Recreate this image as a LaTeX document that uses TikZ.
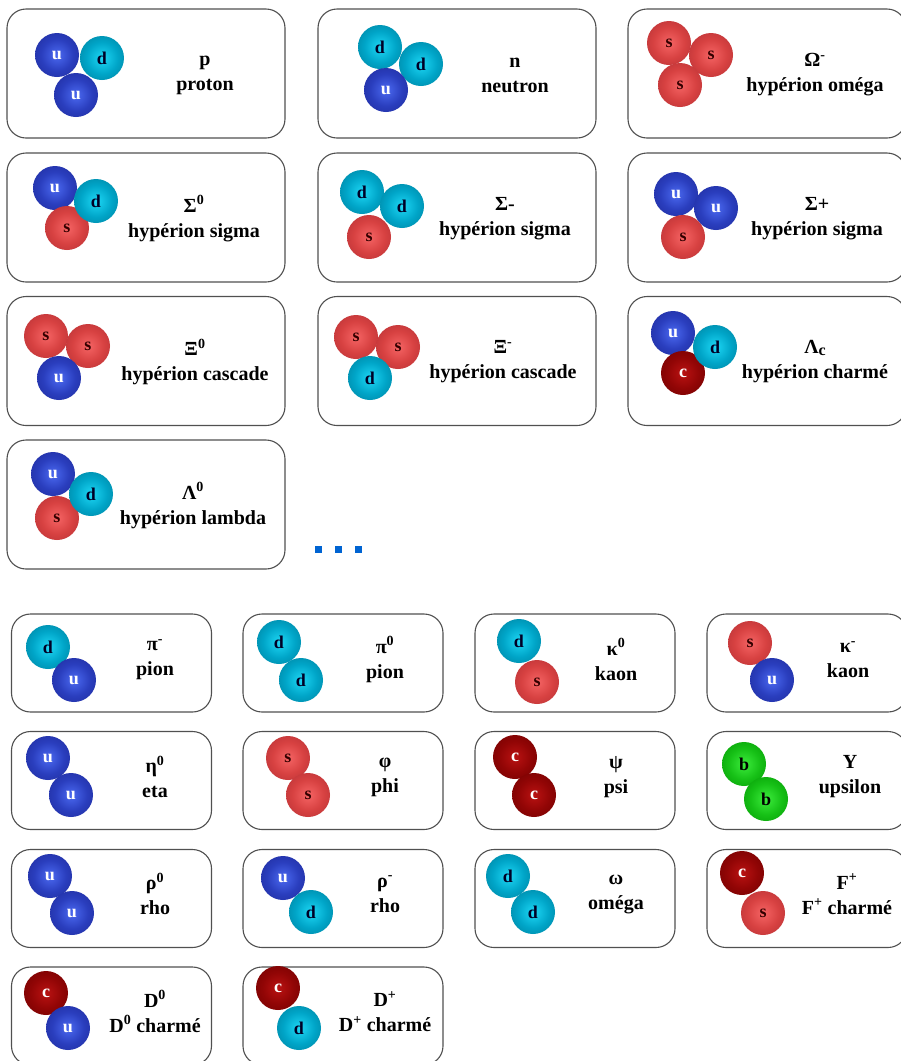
\documentclass[tikz,border=0pt]{standalone}
\usepackage{fontspec}
\setmainfont{Liberation Serif}

% quark colours: centre, middle, outer, rim
\definecolor{uIn}{RGB}{75,105,240}
\definecolor{uMid}{RGB}{42,62,190}
\definecolor{uOut}{RGB}{28,38,145}
\definecolor{uRim}{RGB}{20,26,105}
\definecolor{dIn}{RGB}{30,215,245}
\definecolor{dMid}{RGB}{0,165,200}
\definecolor{dOut}{RGB}{0,118,145}
\definecolor{dRim}{RGB}{0,85,105}
\definecolor{sIn}{RGB}{245,100,100}
\definecolor{sMid}{RGB}{215,65,65}
\definecolor{sOut}{RGB}{172,45,50}
\definecolor{sRim}{RGB}{130,30,35}
\definecolor{cIn}{RGB}{185,18,18}
\definecolor{cMid}{RGB}{145,5,5}
\definecolor{cOut}{RGB}{105,0,0}
\definecolor{cRim}{RGB}{78,0,0}
\definecolor{bIn}{RGB}{60,235,60}
\definecolor{bMid}{RGB}{22,192,22}
\definecolor{bOut}{RGB}{0,145,0}
\definecolor{bRim}{RGB}{0,108,0}
\definecolor{boxgray}{RGB}{80,80,80}
\definecolor{dotblue}{RGB}{0,100,210}

\pgfdeclareradialshading{quarkU}{\pgfpoint{0bp}{0bp}}{color(0bp)=(uIn); color(18bp)=(uMid); color(40bp)=(uOut); color(50bp)=(uRim)}
\pgfdeclareradialshading{quarkD}{\pgfpoint{0bp}{0bp}}{color(0bp)=(dIn); color(18bp)=(dMid); color(40bp)=(dOut); color(50bp)=(dRim)}
\pgfdeclareradialshading{quarkS}{\pgfpoint{0bp}{0bp}}{color(0bp)=(sIn); color(18bp)=(sMid); color(40bp)=(sOut); color(50bp)=(sRim)}
\pgfdeclareradialshading{quarkC}{\pgfpoint{0bp}{0bp}}{color(0bp)=(cIn); color(18bp)=(cMid); color(40bp)=(cOut); color(50bp)=(cRim)}
\pgfdeclareradialshading{quarkB}{\pgfpoint{0bp}{0bp}}{color(0bp)=(bIn); color(18bp)=(bMid); color(40bp)=(bOut); color(50bp)=(bRim)}

\tikzset{
  bbox/.style={draw=boxgray, line width=1.1pt, rounded corners=19pt,
    minimum width=278pt, minimum height=129pt, inner sep=0pt, outer sep=0pt},
  mbox/.style={bbox, minimum width=200pt, minimum height=98pt},
  quark/.style={circle, minimum size=44pt, inner sep=0pt, shade,
    font=\fontsize{18}{18}\selectfont\bfseries},
  qu/.style={quark, shading=quarkU, text=white},
  qd/.style={quark, shading=quarkD, text=black!85!blue},
  qs/.style={quark, shading=quarkS, text=black!80!red},
  qc/.style={quark, shading=quarkC, text=white},
  qb/.style={quark, shading=quarkB, text=black},
  lbl/.style={align=center, inner sep=0pt,
    font=\fontsize{20}{25}\selectfont\bfseries},
  dotmark/.style={fill=dotblue, minimum size=7pt, inner sep=0pt}
}

\begin{document}
\begin{tikzpicture}[x=1pt, y=-1pt]
  \fill[white] (0,0) rectangle (901,1061);
  \useasboundingbox (0,0) rectangle (901,1061);

  % ---------------- baryons ----------------
  \node[bbox] (proton) at (146,73.5) {};
  \node[qu] (p1) at (57,55) {u};
  \node[qd] (p2) at (102,58) {d};
  \node[qu] (p3) at (76,95) {u};
  \node[lbl] (lp) at (205,75) {p\\proton};

  \node[bbox] (neutron) at (457,73.5) {};
  \node[qd] (n1) at (380,47) {d};
  \node[qd] (n2) at (421,64) {d};
  \node[qu] (n3) at (386,90) {u};
  \node[lbl] (ln) at (515,75) {n\\neutron};

  \node[bbox] (omega) at (767,73.5) {};
  \node[qs] (o1) at (669,43) {s};
  \node[qs] (o2) at (711,55) {s};
  \node[qs] (o3) at (680,85) {s};
  \node[lbl] (lo) at (815,75) {Ω\textsuperscript{-}\\hypérion oméga};

  \node[bbox] (sigma0) at (146,217.5) {};
  \node[qu] (s01) at (55,188) {u};
  \node[qs] (s03) at (67,228) {s};
  \node[qd] (s02) at (96,201) {d};
  \node[lbl] (ls0) at (194,218.5) {Σ\textsuperscript{0}\\hypérion sigma};

  \node[bbox] (sigmam) at (457,217.5) {};
  \node[qd] (sm1) at (362,192) {d};
  \node[qd] (sm2) at (402,206) {d};
  \node[qs] (sm3) at (369,237) {s};
  \node[lbl] (lsm) at (505,218.5) {Σ-\\hypérion sigma};

  \node[bbox] (sigmap) at (767,217.5) {};
  \node[qu] (sp1) at (676,194) {u};
  \node[qu] (sp2) at (716,208) {u};
  \node[qs] (sp3) at (683,237) {s};
  \node[lbl] (lsp) at (817,218.5) {Σ+\\hypérion sigma};

  \node[bbox] (xi0) at (146,361) {};
  \node[qs] (x01) at (46,336) {s};
  \node[qs] (x02) at (88,346) {s};
  \node[qu] (x03) at (59,378) {u};
  \node[lbl] (lx0) at (195,362) {Ξ\textsuperscript{0}\\hypérion cascade};

  \node[bbox] (xim) at (457,361) {};
  \node[qs] (xm1) at (356,337) {s};
  \node[qs] (xm2) at (398,347) {s};
  \node[qd] (xm3) at (370,378) {d};
  \node[lbl] (lxm) at (503,362) {Ξ\textsuperscript{-}\\hypérion cascade};

  \node[bbox] (lambdac) at (767,361) {};
  \node[qu] (lc1) at (673,333) {u};
  \node[qc] (lc3) at (683,373) {c};
  \node[qd] (lc2) at (715,347) {d};
  \node[lbl] (llc) at (815,362) {Λ\raisebox{-1.5pt}{\fontsize{16}{16}\selectfont c}\\hypérion charmé};

  \node[bbox] (lambda0) at (146,504.5) {};
  \node[qu] (l01) at (53,474) {u};
  \node[qs] (l03) at (57,518) {s};
  \node[qd] (l02) at (91,494) {d};
  \node[lbl] (ll0) at (193,505.5) {Λ\textsuperscript{0}\\hypérion lambda};

  % continuation marks
  \node[dotmark] (dot1) at (318,549) {};
  \node[dotmark] (dot2) at (338,549) {};
  \node[dotmark] (dot3) at (358,549) {};

  % ---------------- mesons ----------------
  \node[mbox] (pim) at (111.5,663) {};
  \node[qd] (pm1) at (48,647) {d};
  \node[qu] (pm2) at (74,680) {u};
  \node[lbl] (lpm) at (155,659.5) {π\textsuperscript{-}\\pion};

  \node[mbox] (pi0) at (343,663) {};
  \node[qd] (pz1) at (279,642) {d};
  \node[qd] (pz2) at (301,680) {d};
  \node[lbl] (lpz) at (385,659.5) {π\textsuperscript{0}\\pion};

  \node[mbox] (k0) at (575,663) {};
  \node[qd] (kz1) at (519,641) {d};
  \node[qs] (kz2) at (537,682) {s};
  \node[lbl] (lkz) at (616,659.5) {κ\textsuperscript{0}\\kaon};

  \node[mbox] (km) at (807,663) {};
  \node[qs] (km1) at (750,643) {s};
  \node[qu] (km2) at (772,680) {u};
  \node[lbl] (lkm) at (848,659.5) {κ\textsuperscript{-}\\kaon};

  \node[mbox] (eta) at (111.5,780.5) {};
  \node[qu] (et1) at (48,758) {u};
  \node[qu] (et2) at (71,795) {u};
  \node[lbl] (let) at (155,777) {η\textsuperscript{0}\\eta};

  \node[mbox] (phi) at (343,780.5) {};
  \node[qs] (ph1) at (288,758) {s};
  \node[qs] (ph2) at (308,795) {s};
  \node[lbl] (lph) at (385,777) {φ\\phi};

  \node[mbox] (psi) at (575,780.5) {};
  \node[qc] (ps1) at (515,757) {c};
  \node[qc] (ps2) at (534,795) {c};
  \node[lbl] (lps) at (616,777) {ψ\\psi};

  \node[mbox] (ups) at (807,780.5) {};
  \node[qb] (up1) at (744,764) {b};
  \node[qb] (up2) at (766,799) {b};
  \node[lbl] (lup) at (850,777) {Y\\upsilon};

  \node[mbox] (rho0) at (111.5,898.5) {};
  \node[qu] (rz1) at (50,876) {u};
  \node[qu] (rz2) at (72,913) {u};
  \node[lbl] (lrz) at (155,894) {ρ\textsuperscript{0}\\rho};

  \node[mbox] (rhom) at (343,898.5) {};
  \node[qu] (rm1) at (283,878) {u};
  \node[qd] (rm2) at (311,912) {d};
  \node[lbl] (lrm) at (385,894) {ρ\textsuperscript{-}\\rho};

  \node[mbox] (omg) at (575,898.5) {};
  \node[qd] (om1) at (508,876) {d};
  \node[qd] (om2) at (533,912) {d};
  \node[lbl] (lom) at (616,894) {ω\\oméga};

  \node[mbox] (fp) at (807,898.5) {};
  \node[qc] (fp1) at (742,873) {c};
  \node[qs] (fp2) at (763,913) {s};
  \node[lbl] (lfp) at (847,894) {F\textsuperscript{+}\\F\textsuperscript{+} charmé};

  \node[mbox] (d0) at (111.5,1016) {};
  \node[qc] (dz1) at (46,993) {c};
  \node[qu] (dz2) at (68,1028) {u};
  \node[lbl] (ldz) at (155,1011.5) {D\textsuperscript{0}\\D\textsuperscript{0} charmé};

  \node[mbox] (dp) at (343,1016) {};
  \node[qc] (dp1) at (278,988) {c};
  \node[qd] (dp2) at (299,1028) {d};
  \node[lbl] (ldp) at (385,1011.5) {D\textsuperscript{+}\\D\textsuperscript{+} charmé};
\end{tikzpicture}
\end{document}
